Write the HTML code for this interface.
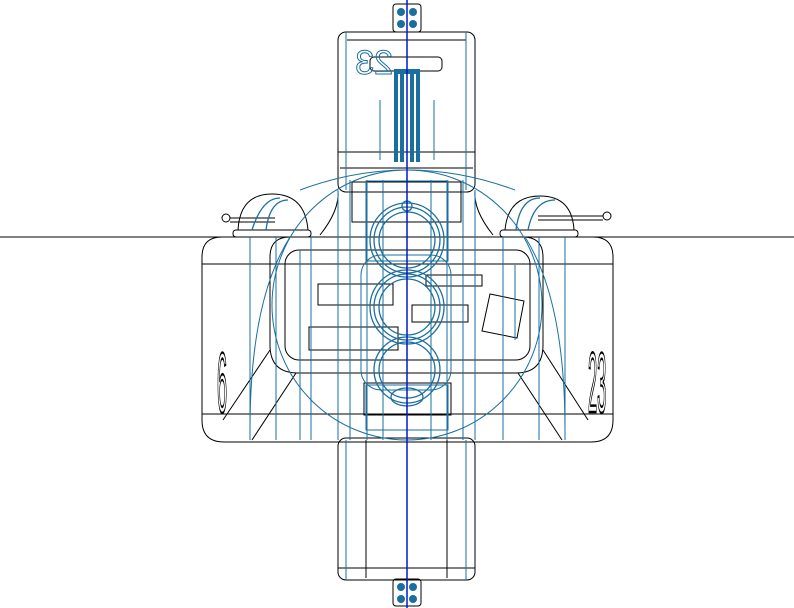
<!DOCTYPE html>
<html><head><meta charset="utf-8"><style>html,body{margin:0;padding:0;background:#fff;width:794px;height:608px;overflow:hidden}</style></head><body>
<svg width="794" height="608" viewBox="0 0 794 608" xmlns="http://www.w3.org/2000/svg" fill="none" stroke-width="1">
<line x1="0" y1="237" x2="794" y2="237" stroke="#000"/>
<g stroke="#000">
<rect x="338" y="32" width="137" height="160" rx="8"/>
<line x1="347" y1="40" x2="466" y2="40"/>
<line x1="338" y1="152" x2="475" y2="152"/>
<line x1="340" y1="168" x2="473" y2="168"/>
<rect x="370" y="57" width="72" height="14" rx="4"/>
<rect x="338" y="438" width="137" height="142" rx="8"/>
<line x1="338" y1="568" x2="475" y2="568"/>
<line x1="366" y1="440" x2="366" y2="578"/>
<line x1="447" y1="440" x2="447" y2="578"/>
<rect x="393" y="4" width="28" height="28" rx="3"/>
<rect x="393" y="579" width="28" height="27" rx="3"/>
<path d="M222 237 H593 Q613 237 613 257 V420 Q613 442 591 442 H224 Q202 442 202 420 V257 Q202 237 222 237 Z"/>
<line x1="202" y1="264" x2="613" y2="264"/>
<line x1="202" y1="414" x2="613" y2="414"/>
<path d="M290 237 Q270 237 270 257 V345 Q270 373 298 373 H516 Q543 373 543 345 V257 Q543 237 523 237"/>
<rect x="285" y="250" width="245" height="110" rx="14"/>
<line x1="270" y1="350" x2="223" y2="420"/>
<line x1="296" y1="373" x2="252" y2="440"/>
<line x1="543" y1="350" x2="588" y2="420"/>
<line x1="518" y1="373" x2="562" y2="440"/>
<path d="M338 190 Q340 210 320 235"/>
<path d="M475 190 Q473 210 493 235"/>
<rect x="318" y="284" width="75" height="21"/>
<rect x="426" y="275" width="56" height="11"/>
<rect x="412" y="305" width="56" height="17"/>
<rect x="309" y="327" width="89" height="23"/>
<path d="M490 294 L524 301 L517 338 L482 331 Z"/>
<rect x="364" y="383" width="87" height="32"/>
<rect x="352" y="182" width="109" height="40"/>
<path d="M238 230 Q240 194 272 194 Q305 194 308 230"/>
<path d="M505 230 Q508 196 540 196 Q572 196 574 230"/>
<rect x="233" y="230" width="78" height="7" rx="3"/>
<rect x="500" y="230" width="78" height="7" rx="3"/>
<circle cx="226" cy="218" r="4"/>
<circle cx="607" cy="216" r="4"/>
<line x1="230" y1="218" x2="275" y2="218"/>
<line x1="230" y1="222" x2="275" y2="222"/>
<line x1="538" y1="216" x2="603" y2="216"/>
<line x1="538" y1="220" x2="603" y2="220"/>
</g>
<g stroke="#1a6fa0">
<circle cx="407" cy="305" r="135"/>
<path d="M300 190 Q407 150 515 190"/>
<line x1="346" y1="32" x2="346" y2="190"/><line x1="466" y1="32" x2="466" y2="190"/>
<line x1="346" y1="440" x2="346" y2="580"/><line x1="466" y1="440" x2="466" y2="580"/>
<line x1="250" y1="237" x2="250" y2="440"/><line x1="276" y1="237" x2="276" y2="440"/>
<line x1="300" y1="250" x2="300" y2="440"/><line x1="311" y1="237" x2="311" y2="440"/>
<line x1="338" y1="190" x2="338" y2="440"/><line x1="350" y1="180" x2="350" y2="440"/>
<line x1="367" y1="180" x2="367" y2="440"/><line x1="383" y1="180" x2="383" y2="440"/>
<line x1="431" y1="180" x2="431" y2="440"/><line x1="447" y1="180" x2="447" y2="440"/>
<line x1="463" y1="180" x2="463" y2="440"/><line x1="475" y1="190" x2="475" y2="440"/>
<line x1="503" y1="237" x2="503" y2="440"/><line x1="539" y1="237" x2="539" y2="440"/>
<line x1="565" y1="237" x2="565" y2="440"/>
<rect x="366" y="181" width="82" height="80"/>
<rect x="366" y="385" width="82" height="45"/>
<rect x="361" y="255" width="90" height="135" rx="20"/>
<line x1="300" y1="265" x2="300" y2="330"/>
<line x1="515" y1="265" x2="515" y2="340"/>
<path d="M250 430 Q250 300 290 237"/><path d="M565 430 Q565 300 525 237"/>
<path d="M380 100 V160 M434 100 V160"/>
</g>
<g stroke="#1a6fa0" stroke-width="1.3">
<circle cx="407" cy="240" r="28"/><circle cx="407" cy="240" r="33"/><circle cx="407" cy="240" r="37"/>
<circle cx="407" cy="307" r="28"/><circle cx="407" cy="307" r="33"/><circle cx="407" cy="307" r="37"/>
<circle cx="407" cy="370" r="28"/><circle cx="407" cy="370" r="33"/>
<path d="M252 230 Q262 198 280 198 M266 230 Q270 200 288 200"/>
<path d="M516 230 Q520 198 540 198 M528 230 Q534 200 555 200"/>
<ellipse cx="407" cy="397" rx="16" ry="9"/>
<circle cx="407" cy="206" r="5"/>
</g>
<g fill="#1a6fa0">
<circle cx="401" cy="12" r="4"/><circle cx="413" cy="12" r="4"/><circle cx="401" cy="24" r="4"/><circle cx="413" cy="24" r="4"/>
<circle cx="401" cy="587" r="4"/><circle cx="413" cy="587" r="4"/><circle cx="401" cy="599" r="4"/><circle cx="413" cy="599" r="4"/>
<rect x="394" y="69" width="26" height="5"/>
<rect x="394" y="74" width="4" height="88"/><rect x="400" y="74" width="4" height="88"/><rect x="410" y="74" width="4" height="88"/><rect x="416" y="74" width="4" height="88"/>
</g>
<text transform="translate(393,74) scale(-1,1)" font-family="Liberation Sans, sans-serif" font-size="34" fill="none" stroke="#1a6fa0">23</text>
<text transform="translate(217,412) scale(0.55,2.6)" font-family="Liberation Sans, sans-serif" font-size="33" fill="none" stroke="#000">6</text>
<text transform="translate(588,412) scale(0.5,2.6)" font-family="Liberation Sans, sans-serif" font-size="33" fill="none" stroke="#000">23</text>
<line x1="407" y1="0" x2="407" y2="608" stroke="#0018c8" stroke-width="1.5"/>
</svg>
</body></html>
